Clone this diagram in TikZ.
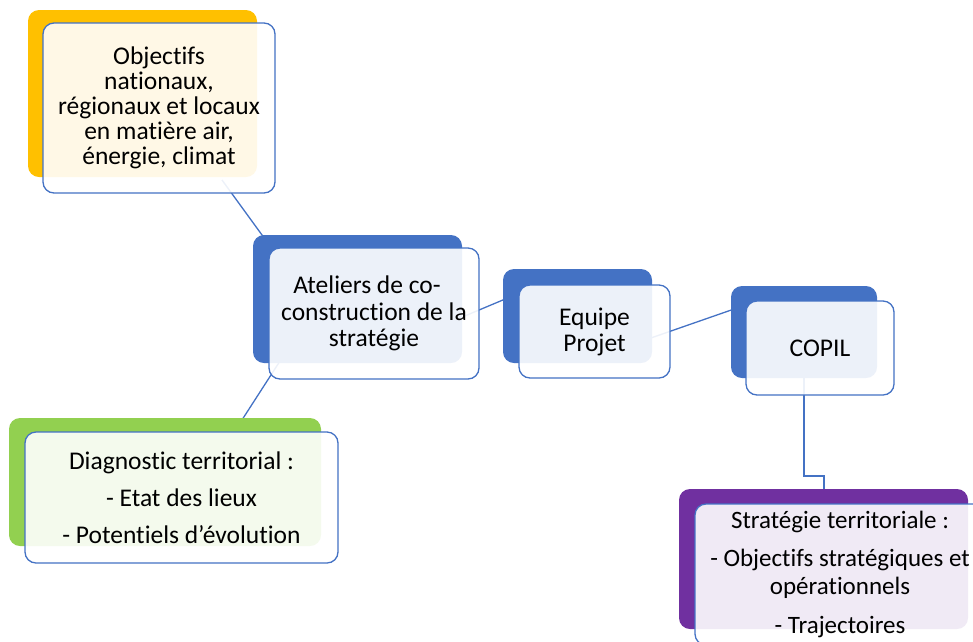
\documentclass[tikz,border=0pt]{standalone}
\usepackage{fontspec}
\setmainfont{Carlito}[Ligatures=NoCommon]
\definecolor{cyellow}{HTML}{FFC000}
\definecolor{cblue}{HTML}{4472C4}
\definecolor{cgreen}{HTML}{92D050}
\definecolor{cpurple}{HTML}{7030A0}
\begin{document}
\begin{tikzpicture}[x=1pt,y=-1pt,
  backbox/.style={fill=#1, rounded corners=11pt, inner sep=0pt, outer sep=0pt},
  frontbox/.style={draw=cblue, line width=1.3pt, fill=white, fill opacity=0.9, text opacity=1,
    rounded corners=11pt, inner sep=0pt, outer sep=0pt, align=center, text=black},
  link/.style={draw=cblue, line width=1.3pt}]
\useasboundingbox (0,0) rectangle (973,641);
\clip (0,0) rectangle (973,641);
% connector end points
\coordinate (l1a) at (222,180);
\coordinate (l1b) at (270,246);
\coordinate (l2a) at (280,361);
\coordinate (l2b) at (240,423);
\coordinate (l3a) at (460,318);
\coordinate (l3b) at (510,297);
\coordinate (l4a) at (648,339);
\coordinate (l4b) at (737,308);
\coordinate (l5a) at (804,370);
\coordinate (l5b) at (824,495);
% connectors
\draw[link] (l1a) -- (l1b);
\draw[link] (l2a) -- (l2b);
\draw[link] (l3a) -- (l3b);
\draw[link] (l4a) -- (l4b);
\draw[link] (l5a) -- (804,476) -- (824,476) -- (l5b);
% back boxes
\node[backbox=cyellow, minimum width=229pt, minimum height=167pt] (b1) at (142.5,93.5) {};
\node[backbox=cblue, minimum width=209pt, minimum height=128pt] (b2) at (357.5,299) {};
\node[backbox=cblue, minimum width=149pt, minimum height=94pt] (b3) at (577.5,316) {};
\node[backbox=cblue, minimum width=146pt, minimum height=92pt] (b4) at (804,332) {};
\node[backbox=cpurple, minimum width=289pt, minimum height=140pt] (b5) at (823.5,559) {};
\node[backbox=cgreen, minimum width=312pt, minimum height=128pt] (b6) at (165,482) {};
% front boxes with text
\node[frontbox, minimum width=232pt, minimum height=170pt, font=\fontsize{25.5}{25}\selectfont] (f1) at (159,108)
  {\raisebox{3pt}{\parbox{230pt}{\centering Objectifs\\nationaux,\\régionaux et locaux\\en matière air,\\énergie, climat}}};
\node[frontbox, minimum width=210pt, minimum height=131pt, font=\fontsize{25.5}{26.5}\selectfont] (f2) at (374,313.5)
  {\hspace*{-14pt}Ateliers de co-\\construction de la\\stratégie};
\node[frontbox, minimum width=151pt, minimum height=93pt, font=\fontsize{25.5}{26}\selectfont] (f3) at (594.5,331.5)
  {Equipe\\Projet};
\node[frontbox, minimum width=148pt, minimum height=94pt, font=\fontsize{25.5}{26}\selectfont] (f4) at (820,348)
  {COPIL};
\node[frontbox, minimum width=290pt, minimum height=141pt, font=\fontsize{25}{28}\selectfont] (f5) at (840,574.5)
  {Stratégie territoriale :\\[10pt]- Objectifs stratégiques et\\opérationnels\\[11pt]- Trajectoires};
\node[frontbox, minimum width=313pt, minimum height=131pt, font=\fontsize{25.5}{37}\selectfont] (f6) at (181.5,497.5)
  {Diagnostic territorial :\\- Etat des lieux\\- Potentiels d’évolution};
\end{tikzpicture}
\end{document}
